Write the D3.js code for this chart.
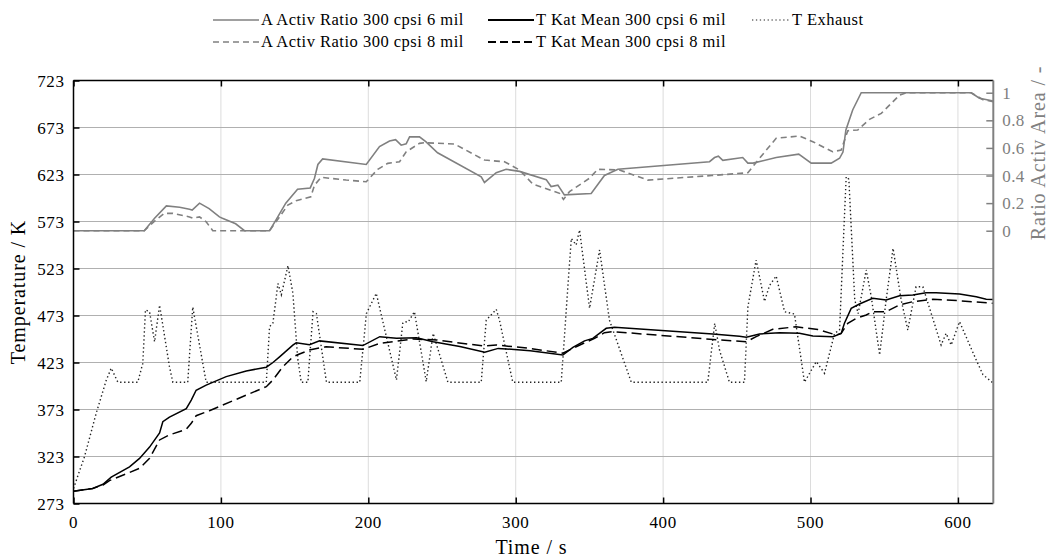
<!DOCTYPE html>
<html><head><meta charset="utf-8">
<script src="https://cdn.jsdelivr.net/npm/d3@7"></script>
<style>
body{margin:0;background:#fff;}
svg{display:block;font-family:"Liberation Serif","DejaVu Serif",serif;}
</style></head>
<body><svg id="c" width="1050" height="560"></svg>
<script>
// ---- data ----
const tempTicks = [273,323,373,423,473,523,573,623,673,723];
const timeTicks = [0,100,200,300,400,500,600];
const ratioTicks = [0,0.2,0.4,0.6,0.8,1];
const seriesNames = ["A Activ Ratio 300 cpsi 6 mil","A Activ Ratio 300 cpsi 8 mil","T Kat Mean 300 cpsi 6 mil","T Kat Mean 300 cpsi 8 mil","T Exhaust"];

const ratio6T = [0,48,55,63,72,78.7,80.5,85.5,92,99,101,110,116,133,137.5,144,152,160.6,163.5,165.8,169,198.6,207.6,214.4,218.5,222.3,225.7,228,234.7,239,247,276.6,278.8,286.8,293.5,302.6,320.7,324,328.6,333,351.2,360.2,369.3,431.5,434.9,437.5,440.5,454,457.5,461,476.7,492,500.5,514,519.7,522,524,528.6,534.4,609,614.6,624];
const ratio6V = [0,0,0.09,0.18,0.17,0.155,0.15,0.2,0.16,0.1,0.09,0.05,0,0,0.08,0.2,0.3,0.31,0.38,0.48,0.52,0.48,0.61,0.65,0.66,0.62,0.63,0.68,0.68,0.645,0.565,0.39,0.35,0.42,0.445,0.43,0.37,0.32,0.33,0.26,0.27,0.4,0.445,0.5,0.53,0.54,0.51,0.53,0.49,0.49,0.53,0.555,0.49,0.49,0.525,0.57,0.73,0.875,1,1,0.96,0.94];

const ratio8T = [0,48,55,61.7,67.4,78.7,81,85.5,90,94.5,133,139.8,145.4,151,161,163.5,168,185,198.6,206.4,213.2,221.2,225.7,234.7,238,258.5,278.8,292.4,302.6,311.6,329.7,332.4,336.5,350,355.7,370.4,389.6,433,457.5,465.4,476.7,492.5,501.6,515,520.8,525.3,532,540,548,560.4,565,609,617,624];
const ratio8V = [0,0,0.07,0.126,0.126,0.1,0.09,0.1,0.065,0,0,0.1,0.186,0.217,0.246,0.33,0.387,0.367,0.355,0.445,0.488,0.5,0.572,0.633,0.638,0.628,0.512,0.5,0.44,0.338,0.271,0.227,0.283,0.38,0.445,0.44,0.367,0.4,0.42,0.525,0.67,0.686,0.645,0.572,0.585,0.725,0.73,0.807,0.85,0.983,1,1,0.95,0.935];

const kat6T = [0,13,20,25.6,38,44.8,51.6,58.4,60.6,65.1,76.5,79.9,83.2,90,103.6,117.2,130.8,135.3,139.8,148.8,151.1,160.1,166.9,196.3,207.8,219.1,232.7,244,262.1,279,288.1,309.8,332,338.8,346.7,352.3,361.4,367,433.7,451.8,456.4,465.4,479,492.5,501.6,515.2,520.8,523,527.6,533.2,542.2,551.3,560.4,569.4,578.4,585.2,601.1,612.4,619.2,624];
const kat6V = [286,289,293.5,301,312,321,333,348,360,365,374,383,393.5,399,408,414,418,423,429,441.5,444,442,446,441,450.5,448.7,449.4,445,440,434,438,435.6,431,439,446,448.7,459.4,460.4,453.3,451,449.8,453.3,454.7,454,451.2,450.5,454,464.7,480.6,485.2,491.3,489.5,494.1,494.8,497.3,497.3,495.9,493,490.2,490];

const kat8T = [0,13,20,24.4,44.8,51.6,58.4,65.1,76.5,79.9,83.2,92.2,130.8,135.3,142,148.8,153.3,160,171.3,196.3,207.8,230.4,246.2,277.8,286.8,309.8,332,341,353.5,360.2,365.9,438.3,456.4,463.1,474.4,490.2,505,517.5,520.8,525.3,531,537.8,542.2,551.3,560.4,569.4,583,601,624];
const kat8V = [286,289,292.7,297.3,310.4,321,340.6,346,352,358.3,366.4,371.7,397.3,404.4,418.5,429,432,436.3,439.8,437,443.4,448,447,440.6,441.6,438,432.8,439.8,448.7,454.7,455.8,447,445,450.5,458.3,461,458,452.3,454,464.7,470,473.5,477,477,484.2,487.7,490.2,488.7,486];

const exhT = [0,7.5,15.4,22.2,25.6,30.1,43.6,47,48.8,51.6,55,58.4,65.1,67.4,77.5,80.9,90,130.8,133,135.3,138.7,141,145.5,148.8,152.2,154.5,159,162.5,164.8,171.6,194.2,198.7,205.4,219.1,223.4,224.6,227,231.3,239.3,244,254,276.6,280,286.8,289,298,330.9,334.3,337.7,341,343.3,350.1,356.9,363.6,378.4,430.3,435,438.3,445,455.2,457.5,463.1,468.8,472.2,476.7,482.4,489.1,495.9,503.9,509.5,516.3,519.7,524.2,526,530,532.3,537.8,541.2,546.9,551.3,556,561.5,566,571.6,576.2,588.6,592,595.4,601.1,612.4,617,624];
const exhV = [289,323,369,404,417,402,402,422,479,477,445,484,418.5,402,402,482,402,402,461,465,507,495,526,497,426,402,402,477,475,402,402,475,496.6,404.4,464.7,466.4,466,477,402.6,454,402,402,468,479.6,468,402,402,479,555,548,564,480.7,542.7,468,402,402,464.7,436,402,402,482,532,488,505,515,477,474.6,402,424,411.5,454,457.6,620.7,618,490,475,521.4,493,431,489.5,544.5,489.5,457.6,503.6,503.6,441.6,454,441.6,466.4,425.7,410,401];

// ---- layout ----
const svg = d3.select("#c");
const L = 73.5, R = 993.3, T = 80.5, B = 503.5;
const x = d3.scaleLinear().domain([0,624]).range([L,R]);
const y = d3.scaleLinear().domain([273,723]).range([B,T]);
// ratio axis: ratio 0 at 563.2 K, ratio 1 at 710 K
const r0 = 563.2, rSpan = 146.8;
const yR = d3.scaleLinear().domain([(273-r0)/rSpan,(723-r0)/rSpan]).range([B,T]);
const GRAY = "#808080";

// grid
svg.append("g").selectAll("line").data(timeTicks.slice(1)).join("line")
  .attr("x1",d=>x(d)).attr("x2",d=>x(d)).attr("y1",T).attr("y2",B)
  .attr("stroke","#dcdcdc").attr("stroke-width",1);
svg.append("g").selectAll("line").data(tempTicks.slice(1,-1)).join("line")
  .attr("x1",L).attr("x2",R).attr("y1",d=>y(d)).attr("y2",d=>y(d))
  .attr("stroke","#b0b0b0").attr("stroke-width",1.2);

// lines
function pts(ts,vs){return ts.map((t,i)=>[t,vs[i]]);}
const lineT = d3.line().x(d=>x(d[0])).y(d=>y(d[1]));
const lineR = d3.line().x(d=>x(d[0])).y(d=>yR(d[1]));
svg.append("clipPath").attr("id","pc").append("rect").attr("x",L).attr("y",T-2).attr("width",R-L).attr("height",B-T+2);
const plot = svg.append("g").attr("clip-path","url(#pc)");
plot.append("path").attr("d",lineT(pts(exhT,exhV))).attr("fill","none").attr("stroke","#222").attr("stroke-width",1.4).attr("stroke-dasharray","1.4,2.6");
plot.append("path").attr("d",lineR(pts(ratio8T,ratio8V))).attr("fill","none").attr("stroke",GRAY).attr("stroke-width",1.6).attr("stroke-dasharray","6,4");
plot.append("path").attr("d",lineR(pts(ratio6T,ratio6V))).attr("fill","none").attr("stroke",GRAY).attr("stroke-width",1.6);
plot.append("path").attr("d",lineT(pts(kat8T,kat8V))).attr("fill","none").attr("stroke","#000").attr("stroke-width",1.5).attr("stroke-dasharray","10,5");
plot.append("path").attr("d",lineT(pts(kat6T,kat6V))).attr("fill","none").attr("stroke","#000").attr("stroke-width",1.5);

// axes (inward ticks)
const fs = 17;
const axL = svg.append("g").attr("transform",`translate(${L},0)`)
  .call(d3.axisRight(y).tickValues(tempTicks).tickSize(6).tickFormat(""));
const axB = svg.append("g").attr("transform",`translate(0,${B})`)
  .call(d3.axisTop(x).tickValues(timeTicks).tickSize(6).tickFormat(""));
const axT = svg.append("g").attr("transform",`translate(0,${T})`)
  .call(d3.axisBottom(x).tickValues(timeTicks).tickSize(6).tickFormat(""));
const axR = svg.append("g").attr("transform",`translate(${R},0)`)
  .call(d3.axisLeft(yR).tickValues(ratioTicks).tickSize(7).tickFormat(""));
[axL,axB,axT,axR].forEach(a=>a.select(".domain").remove());
[axL,axB,axT].forEach(a=>a.selectAll("line").attr("stroke","#000").attr("stroke-width",1.5));
axR.selectAll("line").attr("stroke",GRAY).attr("stroke-width",1.5);

// frame
svg.append("line").attr("x1",L).attr("x2",R).attr("y1",T).attr("y2",T).attr("stroke","#000").attr("stroke-width",1.5);
svg.append("line").attr("x1",L).attr("x2",R).attr("y1",B).attr("y2",B).attr("stroke","#000").attr("stroke-width",1.5);
svg.append("line").attr("x1",L).attr("x2",L).attr("y1",T).attr("y2",B).attr("stroke","#000").attr("stroke-width",1.5);
svg.append("line").attr("x1",R).attr("x2",R).attr("y1",T).attr("y2",B).attr("stroke",GRAY).attr("stroke-width",2);

// tick labels
svg.append("g").selectAll("text").data(tempTicks).join("text")
  .attr("x",L-9).attr("y",d=>y(d)+6).attr("text-anchor","end").attr("font-size",fs).attr("letter-spacing",0.6).text(d=>d);
svg.append("g").selectAll("text").data(timeTicks).join("text")
  .attr("x",d=>x(d)).attr("y",B+24).attr("text-anchor","middle").attr("font-size",fs).attr("letter-spacing",0.6).text(d=>d);
svg.append("g").selectAll("text").data(ratioTicks).join("text")
  .attr("x",R+9).attr("y",d=>yR(d)+6).attr("text-anchor","start").attr("font-size",fs).attr("letter-spacing",0.4).attr("fill",GRAY).text(d=>d);

// axis titles
const tfs = 20, tls = 0.9;
svg.append("text").attr("transform",`translate(25,${(T+B)/2}) rotate(-90)`).attr("text-anchor","middle").attr("font-size",tfs).attr("letter-spacing",tls).text("Temperature / K");
svg.append("text").attr("x",(L+R)/2 - 2).attr("y",554).attr("text-anchor","middle").attr("font-size",tfs).attr("letter-spacing",tls).text("Time / s");
svg.append("text").attr("transform",`translate(1045,153) rotate(-90)`).attr("text-anchor","middle").attr("font-size",tfs).attr("letter-spacing",tls).attr("fill",GRAY).text("Ratio Activ Area / -");

// legend
const leg = [
  {name:seriesNames[0],col:0,row:0,stroke:GRAY,dash:null,w:1.6,len:46},
  {name:seriesNames[1],col:0,row:1,stroke:GRAY,dash:"6,4",w:1.6,len:46},
  {name:seriesNames[2],col:1,row:0,stroke:"#000",dash:null,w:1.8,len:46},
  {name:seriesNames[3],col:1,row:1,stroke:"#000",dash:"8,4",w:1.8,len:46},
  {name:seriesNames[4],col:2,row:0,stroke:"#222",dash:"1.3,2.6",w:1.2,len:38}
];
const colX = [213, 488, 752];
const rowY = [20, 42];
const lg = svg.append("g");
leg.forEach(e=>{
  const x0 = colX[e.col], yy = rowY[e.row];
  const ln = lg.append("line").attr("x1",x0).attr("x2",x0+e.len).attr("y1",yy).attr("y2",yy).attr("stroke",e.stroke).attr("stroke-width",e.w);
  if(e.dash) ln.attr("stroke-dasharray",e.dash);
  lg.append("text").attr("x",x0+e.len+2).attr("y",yy+5).attr("font-size",16.5).attr("letter-spacing",0.5).text(e.name);
});
</script></body></html>
